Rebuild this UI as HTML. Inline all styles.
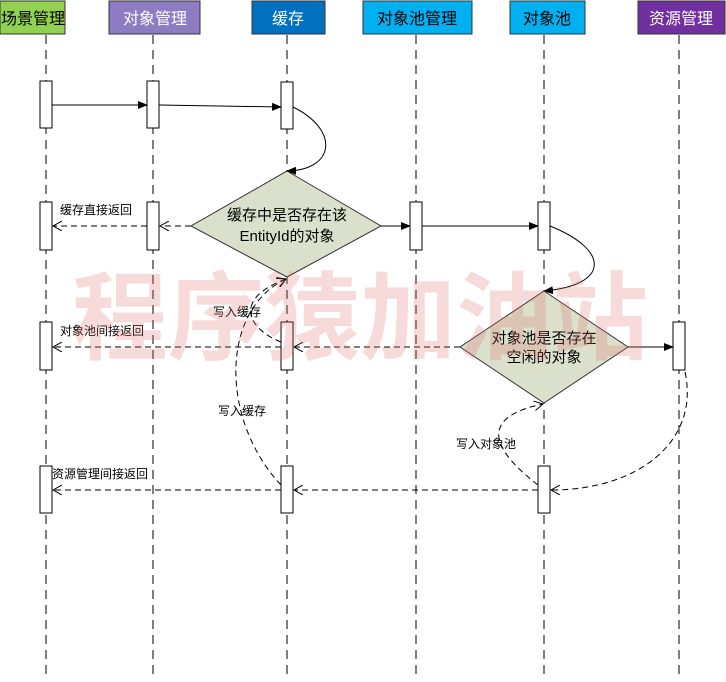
<!DOCTYPE html>
<html><head><meta charset="utf-8"><style>
body{margin:0;background:#fff;width:726px;height:677px;overflow:hidden;font-family:"Liberation Sans","Noto Sans CJK SC",sans-serif}
</style></head><body>
<svg width="726" height="677" xmlns="http://www.w3.org/2000/svg" font-family="Liberation Sans, Noto Sans CJK SC, sans-serif">
<defs>
<marker id="f" markerWidth="10" markerHeight="8" refX="9" refY="4" orient="auto" markerUnits="userSpaceOnUse"><path d="M0,0L10,4L0,8z" fill="#000"/></marker>
<marker id="o" markerWidth="10" markerHeight="10" refX="9" refY="5" orient="auto" markerUnits="userSpaceOnUse"><path d="M0,0L9,5L0,10" fill="none" stroke="#000"/></marker>
</defs>
<g stroke="#000" stroke-dasharray="9,6" stroke-width="1">
<line x1="46" y1="35" x2="46" y2="677"/><line x1="153" y1="35" x2="153" y2="677"/><line x1="287" y1="35" x2="287" y2="677"/>
<line x1="416" y1="35" x2="416" y2="677"/><line x1="544" y1="35" x2="544" y2="677"/><line x1="679" y1="35" x2="679" y2="677"/>
</g>
<g stroke="#333">
<rect x="0" y="1" width="65" height="33" fill="#92d050"/><rect x="109" y="1" width="91" height="33" fill="#8e7cc3"/>
<rect x="252" y="1" width="73" height="33" fill="#0070c0"/><rect x="363" y="1" width="109" height="33" fill="#00b0f0"/>
<rect x="510" y="1" width="75" height="33" fill="#00b0f0"/><rect x="638" y="1" width="87" height="33" fill="#7030a0"/>
</g>
<g font-size="16" text-anchor="middle">
<text x="33" y="24" fill="#000">场景管理</text><text x="155" y="24" fill="#fff">对象管理</text>
<text x="288" y="24" fill="#fff">缓存</text><text x="417" y="24" fill="#000">对象池管理</text>
<text x="547" y="24" fill="#000">对象池</text><text x="681" y="24" fill="#fff">资源管理</text>
</g>
<g fill="#fff" stroke="#000">
<rect x="40" y="81" width="12" height="47"/><rect x="147" y="81" width="12" height="47"/><rect x="281" y="82" width="12" height="47"/>
<rect x="40" y="202" width="12" height="48"/><rect x="147" y="202" width="12" height="48"/><rect x="410" y="202" width="12" height="48"/><rect x="538" y="202" width="12" height="48"/>
<rect x="40" y="322" width="12" height="48"/><rect x="281" y="322" width="12" height="48"/><rect x="673" y="322" width="12" height="48"/>
<rect x="40" y="466" width="12" height="47"/><rect x="281" y="466" width="12" height="47"/><rect x="538" y="466" width="12" height="47"/>
</g>
<g fill="#dbe0cc" stroke="#333">
<path d="M287,171L381,226L287,277L191,226z"/><path d="M544,291L628,347L544,403L460,347z"/>
</g>
<g font-size="15" text-anchor="middle" fill="#000">
<text x="287" y="220">缓存中是否存在该</text><text x="287" y="241">EntityId的对象</text>
<text x="544" y="343">对象池是否存在</text><text x="544" y="362">空闲的对象</text>
</g>
<g stroke="#000" fill="none">
<line x1="52" y1="105" x2="147" y2="105" marker-end="url(#f)"/><line x1="159" y1="105" x2="281" y2="107" marker-end="url(#f)"/>
<path d="M293,107C340,130 335,170 287,171" marker-end="url(#f)"/>
<line x1="381" y1="226" x2="410" y2="226" marker-end="url(#f)"/><line x1="422" y1="226" x2="538" y2="226" marker-end="url(#f)"/>
<path d="M550,226C610,250 610,285 544,291" marker-end="url(#f)"/>
<line x1="628" y1="347" x2="673" y2="347" marker-end="url(#f)"/>
<g stroke-dasharray="6,4">
<line x1="191" y1="226" x2="160" y2="226" marker-end="url(#o)"/><line x1="147" y1="226" x2="53" y2="226" marker-end="url(#o)"/>
<line x1="460" y1="347" x2="294" y2="347" marker-end="url(#o)"/><line x1="281" y1="347" x2="53" y2="347" marker-end="url(#o)"/>
<line x1="538" y1="490" x2="294" y2="490" marker-end="url(#o)"/><line x1="281" y1="490" x2="53" y2="490" marker-end="url(#o)"/>
<path d="M281,342C250,330 230,300 286,279" marker-end="url(#o)"/>
<path d="M281,485C220,420 220,310 286,279" marker-end="url(#o)"/>
<path d="M538,485C480,440 490,415 543,404" marker-end="url(#o)"/>
<path d="M685,372C700,440 640,490 551,490" marker-end="url(#o)"/>
</g>
</g>
<g font-size="12" fill="#000">
<text x="60" y="214">缓存直接返回</text><text x="60" y="335">对象池间接返回</text>
<text x="52" y="478">资源管理间接返回</text><text x="213" y="316">写入缓存</text>
<text x="218" y="415">写入缓存</text><text x="456" y="448">写入对象池</text>
</g>
<text x="360" y="352" font-size="96" font-weight="bold" text-anchor="middle" fill="rgba(225,110,110,0.25)">程序猿加油站</text>
</svg>
</body></html>
